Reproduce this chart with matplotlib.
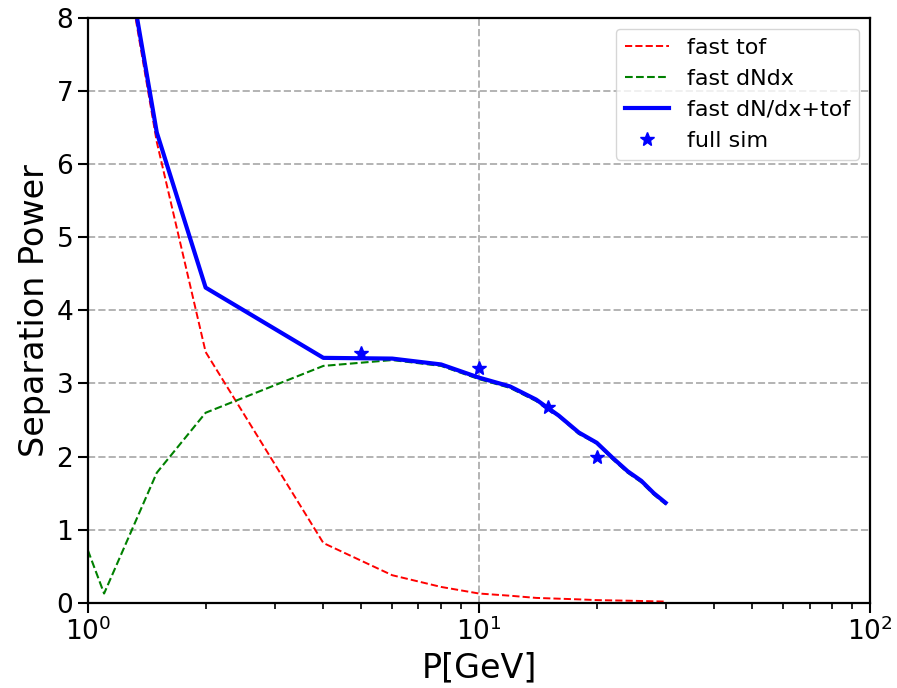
import matplotlib
matplotlib.use("Agg")
import matplotlib.pyplot as plt
import numpy as np

# momentum points [GeV]
p_tof = [1.0, 1.5, 2.0, 4.0, 6.0, 8.0, 10.0, 12.0, 14.0, 18.0, 20.0, 25.0, 30.0]
sep_tof = [11.8, 6.3, 3.43, 0.82, 0.38, 0.22, 0.13, 0.10, 0.07, 0.05, 0.04, 0.03, 0.02]

p_dndx = [1.0, 1.1, 1.5, 2.0, 4.0, 6.0, 8.0, 10.0, 12.0, 14.0, 16.0, 18.0, 20.0, 22.0, 24.0, 26.0, 28.0, 30.0]
sep_dndx = [0.72, 0.13, 1.78, 2.60, 3.24, 3.32, 3.24, 3.06, 2.94, 2.76, 2.55, 2.31, 2.18, 1.96, 1.78, 1.65, 1.48, 1.35]

p_comb = [1.0, 1.5, 2.0, 4.0, 6.0, 8.0, 10.0, 12.0, 14.0, 16.0, 18.0, 20.0, 22.0, 24.0, 26.0, 28.0, 30.0]
sep_comb = [11.9, 6.43, 4.31, 3.35, 3.34, 3.26, 3.08, 2.96, 2.78, 2.56, 2.33, 2.19, 1.98, 1.80, 1.67, 1.50, 1.37]

p_full = [5.0, 10.0, 15.0, 20.0]
sep_full = [3.42, 3.21, 2.68, 2.00]

fig = plt.figure(figsize=(8.97, 6.88), dpi=100)
ax = fig.add_axes([0.098, 0.1235, 0.872, 0.851])

ax.plot(p_tof, sep_tof, "r--", lw=1.4, label="fast tof")
ax.plot(p_dndx, sep_dndx, "g--", lw=1.5, label="fast dNdx")
ax.plot(p_comb, sep_comb, "b-", lw=3.0, label="fast dN/dx+tof")
ax.plot(p_full, sep_full, "b*", ms=10, label="full sim")

ax.set_xscale("log")
ax.set_xlim(1, 100)
ax.set_ylim(0, 8)
ax.grid(True, which="major", linestyle="--", color="0.7", lw=1.4)

ax.set_xlabel("P[GeV]", fontsize=24)
ax.set_ylabel("Separation Power", fontsize=24)
ax.tick_params(axis="both", which="major", labelsize=19, width=1.5, length=7)
ax.tick_params(axis="x", which="minor", width=1.2, length=4)
for s in ax.spines.values():
    s.set_linewidth(1.6)

ax.legend(loc="upper right", fontsize=16, numpoints=1, handlelength=2.0)

fig.savefig("out.png", dpi=100)
plt.close(fig)
